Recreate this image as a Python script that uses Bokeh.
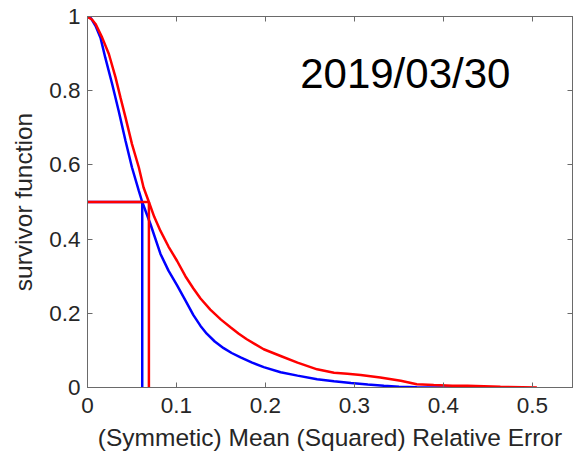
from bokeh.plotting import figure
from bokeh.models import Range1d, LinearAxis, FixedTicker
from bokeh.core.properties import value
from bokeh.embed import file_html
from bokeh.resources import INLINE

# Empirical survivor functions of the relative error
blue_x = [0, 0.004, 0.009, 0.0146, 0.020, 0.0277, 0.035, 0.0427, 0.050, 0.0577, 0.0615,
          0.0708, 0.082, 0.091, 0.1007, 0.110, 0.119, 0.127, 0.134, 0.143, 0.153, 0.162,
          0.172, 0.185, 0.198, 0.217, 0.236, 0.258, 0.277, 0.296, 0.315, 0.333, 0.35,
          0.37, 0.41, 0.456]
blue_y = [1, 0.995, 0.975, 0.943, 0.889, 0.818, 0.746, 0.665, 0.593, 0.53, 0.5,
          0.44, 0.36, 0.315, 0.275, 0.235, 0.195, 0.166, 0.145, 0.124, 0.106, 0.093,
          0.081, 0.067, 0.055, 0.041, 0.032, 0.0225, 0.017, 0.012, 0.008, 0.0045, 0.002,
          0.0008, 0.0003, 0.0]

red_x = [0, 0.0015, 0.005, 0.009, 0.0165, 0.024, 0.0315, 0.037, 0.0427, 0.050, 0.0577,
         0.063, 0.069, 0.075, 0.082, 0.091, 0.1007, 0.11, 0.119, 0.127, 0.138, 0.15,
         0.161, 0.17, 0.179, 0.198, 0.217, 0.236, 0.258, 0.277, 0.292, 0.307, 0.329,
         0.352, 0.37, 0.389, 0.41, 0.427, 0.464, 0.505]
red_y = [1, 0.997, 0.992, 0.98, 0.943, 0.899, 0.836, 0.782, 0.728, 0.656, 0.593,
         0.539, 0.5, 0.46, 0.422, 0.38, 0.341, 0.3, 0.267, 0.24, 0.21, 0.183,
         0.162, 0.145, 0.130, 0.103, 0.085, 0.067, 0.049, 0.04, 0.037, 0.034, 0.027,
         0.018, 0.009, 0.0065, 0.005, 0.0045, 0.002, 0.0]

# Medians (where each survivor function crosses 0.5)
blue_median = 0.0615
red_median = 0.069
median_level = 0.5

x_ticks = [0, 0.1, 0.2, 0.3, 0.4, 0.5]
y_ticks = [0, 0.2, 0.4, 0.6, 0.8, 1]
x_tick_labels = ["0", "0.1", "0.2", "0.3", "0.4", "0.5"]
y_tick_labels = ["0", "0.2", "0.4", "0.6", "0.8", "1"]

date_label = ["2019/03/30"]
date_pos_x = [0.239]
date_pos_y = [0.846]

FONT = "Liberation Sans"
AXIS_COLOR = "#6a6a6a"
TEXT_COLOR = "#262626"

p = figure(width=573, height=457, output_backend="svg", toolbar_location=None,
           x_range=Range1d(0, 0.545), y_range=Range1d(0, 1),
           min_border_left=87, min_border_right=1, min_border_top=16, min_border_bottom=70)
p.background_fill_color = "white"
p.border_fill_color = "white"
p.outline_line_color = AXIS_COLOR
p.xgrid.visible = False
p.ygrid.visible = False

def style_axis(ax, ticks, labels):
    ax.ticker = FixedTicker(ticks=ticks)
    ax.major_label_overrides = {t: l for t, l in zip(ticks, labels)}
    ax.axis_line_color = AXIS_COLOR
    ax.major_tick_line_color = AXIS_COLOR
    ax.major_tick_in = 5
    ax.major_tick_out = 0
    ax.minor_tick_line_color = None
    ax.major_label_text_font = FONT
    ax.major_label_text_color = TEXT_COLOR
    ax.axis_label_text_font = FONT
    ax.axis_label_text_color = TEXT_COLOR
    ax.axis_label_text_font_style = "normal"

xa = p.xaxis[0]
ya = p.yaxis[0]
style_axis(xa, x_ticks, x_tick_labels)
style_axis(ya, y_ticks, y_tick_labels)
xa.major_label_text_font_size = "22.5px"
ya.major_label_text_font_size = "22.5px"
xa.major_label_standoff = 10
ya.major_label_standoff = 7
xa.axis_label = "(Symmetic) Mean (Squared) Relative Error"
ya.axis_label = "survivor function"
xa.axis_label_text_font_size = "24.5px"
ya.axis_label_text_font_size = "24.5px"
xa.axis_label_standoff = 8
ya.axis_label_standoff = 9

# Box axes on top and right: ticks only, no labels
top = LinearAxis()
style_axis(top, x_ticks, ["" for _ in x_ticks])
top.major_label_text_font_size = "1px"
top.major_label_standoff = 0
p.add_layout(top, "above")
right = LinearAxis()
style_axis(right, y_ticks, ["" for _ in y_ticks])
right.major_label_text_font_size = "1px"
right.major_label_standoff = 0
p.add_layout(right, "right")

p.line(blue_x, blue_y, line_color="#0000ff", line_width=2.5)
p.line([0, blue_median, blue_median], [median_level, median_level, 0],
       line_color="#0000ff", line_width=2.5)
p.line(red_x, red_y, line_color="#ff0000", line_width=2.5)
p.line([0, red_median, red_median], [median_level, median_level, 0],
       line_color="#ff0000", line_width=2.5)

p.text(x=date_pos_x, y=date_pos_y, text=date_label, text_font=value(FONT),
       text_font_size="42px", text_color="#000000", text_baseline="alphabetic",
       text_align="left")

open("out.html", "w").write(file_html(p, INLINE))
